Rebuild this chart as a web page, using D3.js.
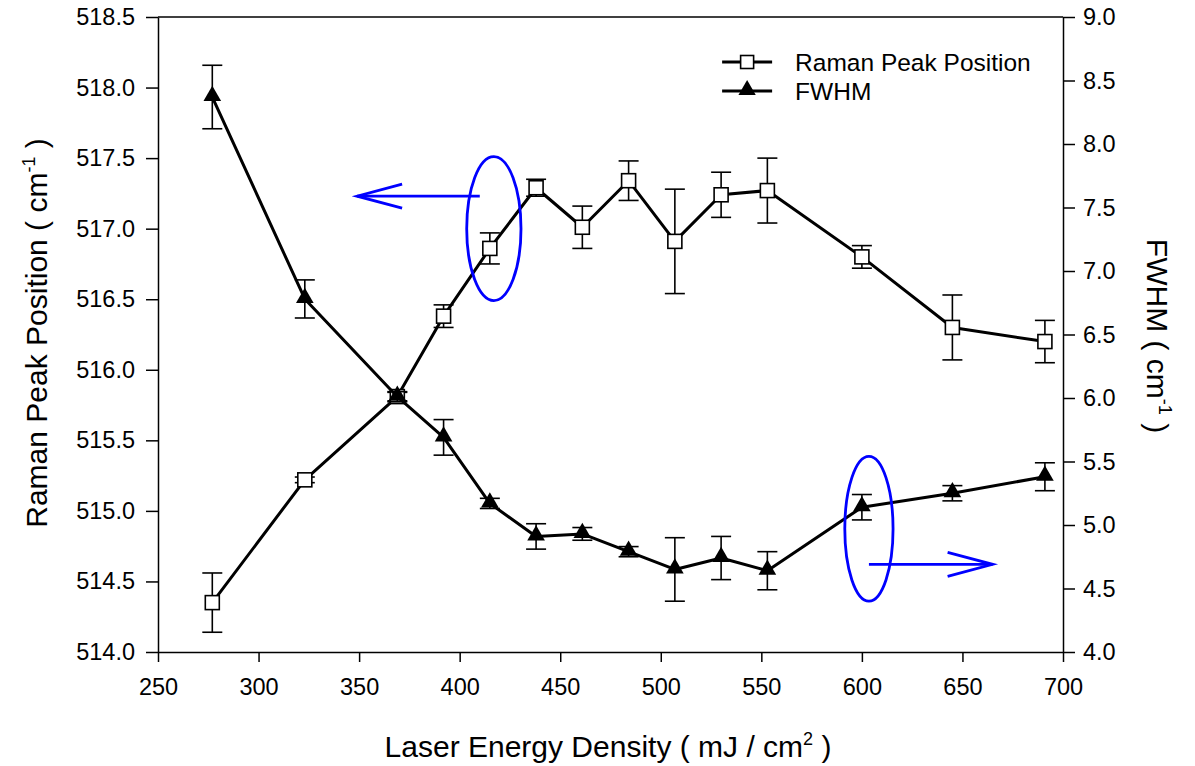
<!DOCTYPE html>
<html>
<head>
<meta charset="utf-8">
<script src="https://cdn.jsdelivr.net/npm/d3@7"></script>
<style>
  body { margin: 0; background: #fff; }
  svg text { font-family: "Liberation Sans", Arial, sans-serif; fill: #000; }
</style>
</head>
<body>
<div id="chart"></div>
<script>
// energy density (mJ/cm2)
var energy = [277, 323, 369, 392, 415, 438, 461, 484, 507, 530, 553, 600, 645, 691];

// raman peak position (cm-1) and its error
var raman = [514.35, 515.22, 515.81, 516.38, 516.86, 517.29, 517.01, 517.34, 516.91, 517.24, 517.27, 516.80, 516.30, 516.20];
var ramanErr = [0.21, 0.02, 0.03, 0.08, 0.11, 0.06, 0.15, 0.14, 0.37, 0.16, 0.23, 0.08, 0.23, 0.15];

// FWHM (cm-1) and its error
var fwhm = [8.37, 6.78, 6.01, 5.69, 5.17, 4.91, 4.93, 4.79, 4.65, 4.74, 4.64, 5.14, 5.25, 5.38];
var fwhmErr = [0.25, 0.15, 0.04, 0.14, 0.04, 0.1, 0.05, 0.04, 0.25, 0.17, 0.15, 0.1, 0.06, 0.11];

var xTicks = [250, 300, 350, 400, 450, 500, 550, 600, 650, 700];
var leftTicks = [514.0, 514.5, 515.0, 515.5, 516.0, 516.5, 517.0, 517.5, 518.0, 518.5];
var rightTicks = [4.0, 4.5, 5.0, 5.5, 6.0, 6.5, 7.0, 7.5, 8.0, 8.5, 9.0];

// blue callouts: ellipse around a point + arrow pointing to its axis
var ovalLeft = { x: 417, y: 517.0, rx: 13.5, ry: 0.51 };
var arrowLeft = { x1: 410, x2: 349, y: 517.23 };
var ovalRight = { x: 603.5, y: 4.97, rx: 12, ry: 0.57 };
var arrowRight = { x1: 603.5, x2: 665, y: 4.69 };

var margin = { top: 17, right: 132, bottom: 114, left: 158 },
    width = 1195 - margin.left - margin.right,
    height = 766 - margin.top - margin.bottom;

var svg = d3.select("#chart").append("svg")
  .attr("width", 1195)
  .attr("height", 766);

var g = svg.append("g")
  .attr("transform", "translate(" + margin.left + "," + margin.top + ")");

var x = d3.scaleLinear().domain([250, 700]).range([0, width]);
var yL = d3.scaleLinear().domain([514, 518.5]).range([height, 0]);
var yR = d3.scaleLinear().domain([4, 9]).range([height, 0]);

// frame top line
g.append("line")
  .attr("x1", 0).attr("x2", width).attr("y1", 0).attr("y2", 0)
  .attr("stroke", "#000").attr("stroke-width", 1.5);

// axes
var xAxis = g.append("g")
  .attr("transform", "translate(0," + height + ")")
  .call(d3.axisBottom(x).tickValues(xTicks).tickSize(10).tickSizeOuter(0).tickPadding(16).tickFormat(d3.format("d")));

var lAxis = g.append("g")
  .call(d3.axisLeft(yL).tickValues(leftTicks).tickSize(12).tickSizeOuter(0).tickPadding(11).tickFormat(d3.format(".1f")));

var rAxis = g.append("g")
  .attr("transform", "translate(" + width + ",0)")
  .call(d3.axisRight(yR).tickValues(rightTicks).tickSize(12).tickSizeOuter(0).tickPadding(8).tickFormat(d3.format(".1f")));

[xAxis, lAxis, rAxis].forEach(function(a) {
  a.selectAll("path,line").attr("stroke", "#000").attr("stroke-width", 1.5);
  a.selectAll("text").style("font-size", "23.5px").attr("fill", "#000");
});

// axis titles
svg.append("text")
  .attr("x", 608)
  .attr("y", 757)
  .attr("text-anchor", "middle")
  .style("font-size", "30px")
  .html('Laser Energy Density ( mJ / cm<tspan dy="-12" style="font-size:18px">2</tspan><tspan dy="12"> )</tspan>');

svg.append("text")
  .attr("transform", "translate(47,333) rotate(-90)")
  .attr("text-anchor", "middle")
  .style("font-size", "30px")
  .html('Raman Peak Position ( cm<tspan dy="-12" style="font-size:18px">-1</tspan><tspan dy="12"> )</tspan>');

svg.append("text")
  .attr("transform", "translate(1147,336) rotate(90)")
  .attr("text-anchor", "middle")
  .style("font-size", "30px")
  .html('FWHM ( cm<tspan dy="-12" style="font-size:18px">-1</tspan><tspan dy="12"> )</tspan>');

// build series rows
var ramanRows = energy.map(function(e, i) { return { x: e, y: raman[i], err: ramanErr[i] }; });
var fwhmRows = energy.map(function(e, i) { return { x: e, y: fwhm[i], err: fwhmErr[i] }; });

function drawSeries(rows, yScale, marker) {
  var s = g.append("g");
  var capW = 10;

  // error bars
  var eb = s.selectAll(".eb").data(rows).enter().append("g")
    .attr("stroke", "#000").attr("stroke-width", 1.6);
  eb.append("line")
    .attr("x1", function(d) { return x(d.x); }).attr("x2", function(d) { return x(d.x); })
    .attr("y1", function(d) { return yScale(d.y + d.err); })
    .attr("y2", function(d) { return yScale(d.y - d.err); });
  eb.append("line")
    .attr("x1", function(d) { return x(d.x) - capW; }).attr("x2", function(d) { return x(d.x) + capW; })
    .attr("y1", function(d) { return yScale(d.y + d.err); }).attr("y2", function(d) { return yScale(d.y + d.err); });
  eb.append("line")
    .attr("x1", function(d) { return x(d.x) - capW; }).attr("x2", function(d) { return x(d.x) + capW; })
    .attr("y1", function(d) { return yScale(d.y - d.err); }).attr("y2", function(d) { return yScale(d.y - d.err); });

  // line
  s.append("path")
    .datum(rows)
    .attr("fill", "none")
    .attr("stroke", "#000")
    .attr("stroke-width", 3)
    .attr("stroke-linejoin", "round")
    .attr("d", d3.line().x(function(d) { return x(d.x); }).y(function(d) { return yScale(d.y); }));

  // markers
  if (marker === "square") {
    s.selectAll(".sq").data(rows).enter().append("rect")
      .attr("x", function(d) { return x(d.x) - 7; })
      .attr("y", function(d) { return yScale(d.y) - 7; })
      .attr("width", 14).attr("height", 14)
      .attr("fill", "#fff").attr("stroke", "#000").attr("stroke-width", 1.6);
  } else {
    s.selectAll(".tri").data(rows).enter().append("path")
      .attr("transform", function(d) { return "translate(" + x(d.x) + "," + (yScale(d.y) - 1) + ")"; })
      .attr("d", d3.symbol().type(d3.symbolTriangle).size(135))
      .attr("fill", "#000");
  }
}

drawSeries(ramanRows, yL, "square");
drawSeries(fwhmRows, yR, "triangle");

// blue callouts
function callout(oval, arrow, yScale) {
  var c = g.append("g").attr("stroke", "#0000ff").attr("stroke-width", 2.8).attr("fill", "none");
  c.append("ellipse")
    .attr("cx", x(oval.x)).attr("cy", yScale(oval.y))
    .attr("rx", x(oval.x + oval.rx) - x(oval.x))
    .attr("ry", yScale(oval.y - oval.ry) - yScale(oval.y));
  var ay = yScale(arrow.y);
  var tip = x(arrow.x2);
  var dir = arrow.x2 < arrow.x1 ? 1 : -1;
  c.append("line").attr("x1", x(arrow.x1)).attr("x2", tip).attr("y1", ay).attr("y2", ay);
  c.append("polyline")
    .attr("points", [[tip + dir * 45, ay - 12], [tip, ay], [tip + dir * 45, ay + 12]].join(" "));
}
callout(ovalLeft, arrowLeft, yL);
callout(ovalRight, arrowRight, yR);

// legend
var legend = g.append("g").attr("transform", "translate(" + x(530.5) + ",0)");
var legItems = [{ name: "Raman Peak Position", marker: "square" }, { name: "FWHM", marker: "triangle" }];
legItems.forEach(function(it, i) {
  var ly = 45 + i * 29;
  legend.append("line").attr("x1", 0).attr("x2", 50).attr("y1", ly).attr("y2", ly)
    .attr("stroke", "#000").attr("stroke-width", 2.8);
  if (it.marker === "square") {
    legend.append("rect").attr("x", 18.5).attr("y", ly - 6.5).attr("width", 13).attr("height", 13)
      .attr("fill", "#fff").attr("stroke", "#000").attr("stroke-width", 1.6);
  } else {
    legend.append("path").attr("transform", "translate(25," + (ly - 1) + ")")
      .attr("d", d3.symbol().type(d3.symbolTriangle).size(130)).attr("fill", "#000");
  }
  legend.append("text").attr("x", 73).attr("y", ly + 8.5).style("font-size", "24.5px").text(it.name);
});
</script>
</body>
</html>
